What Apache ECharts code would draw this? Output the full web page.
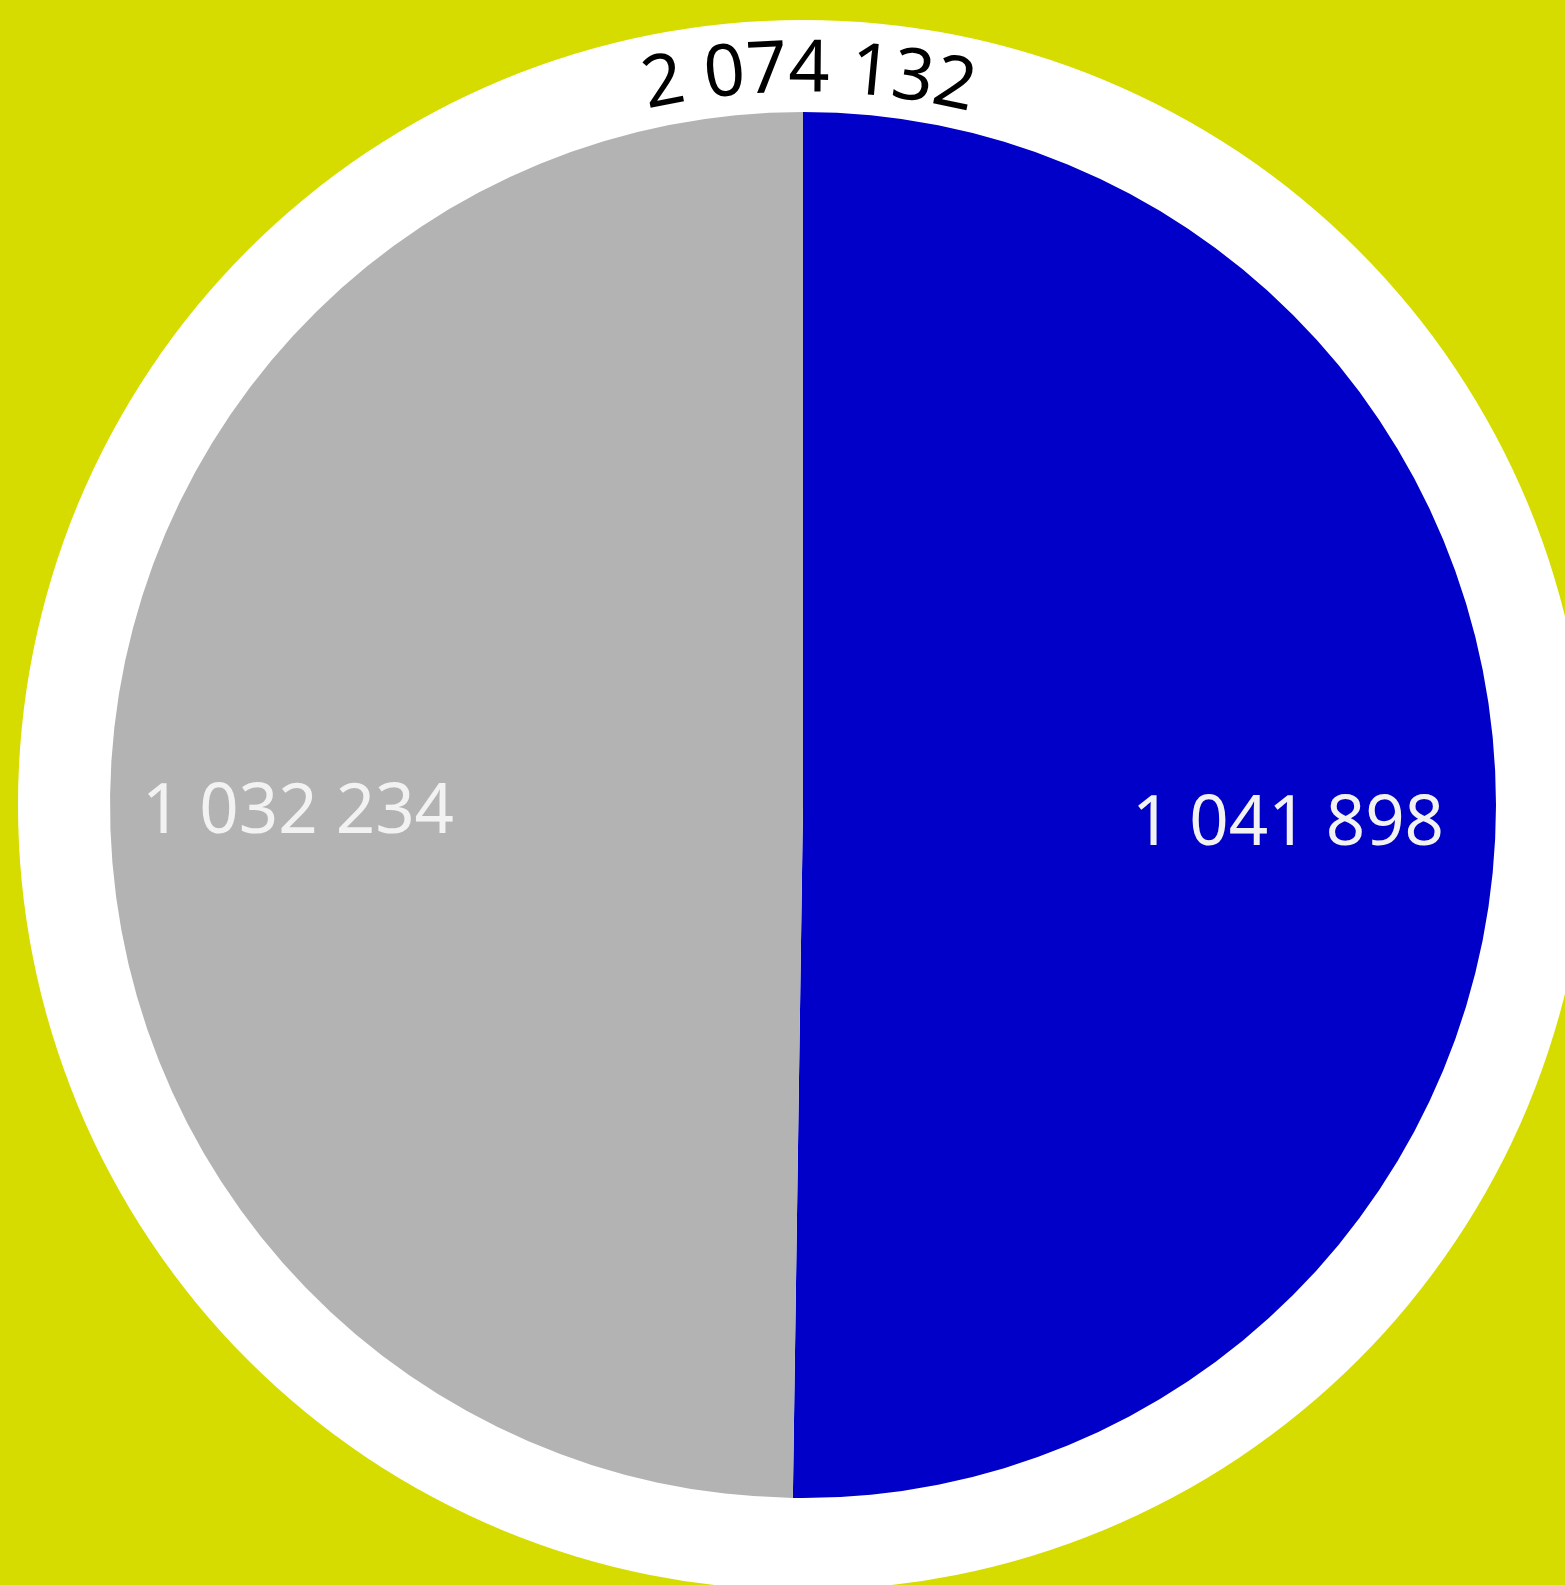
<!DOCTYPE html>
<html>
<head>
<meta charset="utf-8">
<script src="https://cdn.jsdelivr.net/npm/echarts@6/dist/echarts.min.js"></script>
<style>
  html, body { margin: 0; padding: 0; background: #d7dc00; }
  #chart { width: 1565px; height: 1585px; }
</style>
</head>
<body>
<div id="chart"></div>
<script>
// slices, clockwise from the top
const categories = ['Blue', 'Grey']
const values = [1041898, 1032234]
const colors = ['#0000c8', '#b3b3b3']

const total = values.reduce((a, b) => a + b, 0)
const fmt = v => String(v).replace(/\B(?=(\d{3})+(?!\d))/g, ' ')

const cx = 803, cy = 805
const pieR = 693, ringR = 785

const myChart = echarts.init(document.getElementById('chart'))

// curved total label along the white ring, one glyph at a time
const font = '72px "Noto Sans"'
const measure = document.createElement('canvas').getContext('2d')
measure.font = font
const chars = fmt(total).split('')
const widths = chars.map(c => measure.measureText(c).width + 1)
const textW = widths.reduce((a, b) => a + b, 0)
const textR = 734
let cur = -textW / 2 + 6
const glyphs = chars.map((c, i) => {
  const s = cur + widths[i] / 2
  cur += widths[i]
  const t = s / textR
  return {
    type: 'text',
    x: cx + textR * Math.sin(t),
    y: cy - textR * Math.cos(t),
    rotation: -t,
    style: {
      text: c,
      font: font,
      fill: '#000',
      align: 'center',
      verticalAlign: 'middle'
    },
    z: 100
  }
})

const option = {
  backgroundColor: '#d7dc00',
  animation: false,
  graphic: glyphs,
  series: [
    {
      // white outer ring = total
      type: 'pie',
      center: [cx, cy],
      radius: [0, ringR],
      silent: true,
      label: { show: false },
      labelLine: { show: false },
      itemStyle: { color: '#ffffff' },
      data: [{ name: 'Total', value: total }]
    },
    {
      type: 'pie',
      center: [cx, cy],
      radius: [0, pieR],
      startAngle: 90,
      clockwise: true,
      silent: true,
      label: { show: false },
      labelLine: { show: false },
      data: categories.map((n, i) => ({
        name: n, value: values[i], itemStyle: { color: colors[i] }
      }))
    },
    {
      // invisible copy that only carries the value labels further out
      type: 'pie',
      center: [cx, cy],
      radius: [396, 596],
      startAngle: 90,
      clockwise: true,
      silent: true,
      itemStyle: { color: 'rgba(0,0,0,0)' },
      labelLine: { show: false },
      label: {
        show: true,
        position: 'inside',
        formatter: p => fmt(p.value),
        fontFamily: 'Noto Sans',
        fontSize: 69,
        color: '#f2f2f2'
      },
      data: categories.map((n, i) => ({
        name: n,
        value: values[i],
        label: { offset: i === 0 ? [-14, 17] : [-6, 12] }
      }))
    }
  ]
}

myChart.setOption(option)
</script>
</body>
</html>
